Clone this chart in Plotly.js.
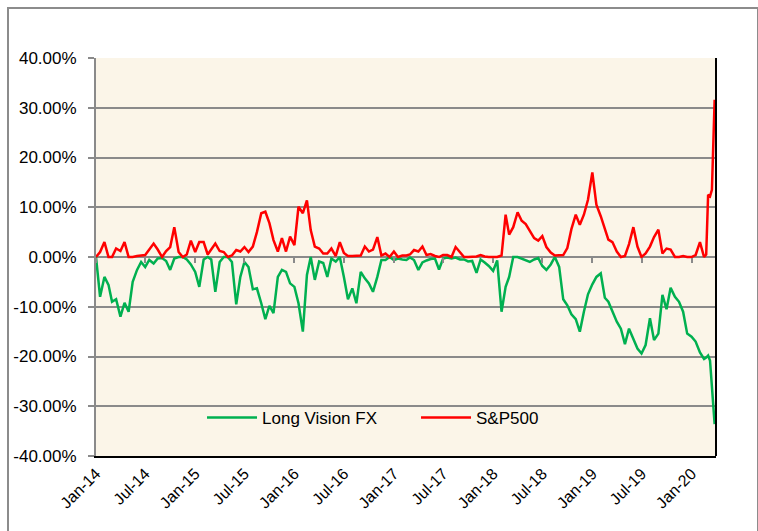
<!DOCTYPE html>
<html>
<head>
<meta charset="utf-8">
<script src="https://cdn.plot.ly/plotly-3.0.1.min.js"></script>
<style>
  html, body { margin: 0; padding: 0; background: #ffffff; }
  #chart { position: absolute; left: 0; top: 0; width: 758px; height: 531px; }
  #frame { position: absolute; left: 7px; top: 7px; width: 748px; height: 530px;
           border-left: 2px solid #8c8c8c; border-top: 2px solid #8c8c8c; border-right: 2px solid #8c8c8c;
           pointer-events: none; }
</style>
</head>
<body>
<div id="chart"></div>
<div id="frame"></div>
<script>
// Dates (half-monthly, weekly around the March 2020 sell-off)
const dates = [
"2014-01-01","2014-01-16","2014-02-01","2014-02-16","2014-03-01","2014-03-16","2014-04-01","2014-04-16","2014-05-01","2014-05-16","2014-06-01","2014-06-16",
"2014-07-01","2014-07-16","2014-08-01","2014-08-16","2014-09-01","2014-09-16","2014-10-01","2014-10-16","2014-11-01","2014-11-16","2014-12-01","2014-12-16",
"2015-01-01","2015-01-16","2015-02-01","2015-02-16","2015-03-01","2015-03-16","2015-04-01","2015-04-16","2015-05-01","2015-05-16","2015-06-01","2015-06-16",
"2015-07-01","2015-07-16","2015-08-01","2015-08-16","2015-09-01","2015-09-16","2015-10-01","2015-10-16","2015-11-01","2015-11-16","2015-12-01","2015-12-16",
"2016-01-01","2016-01-16","2016-02-01","2016-02-16","2016-03-01","2016-03-16","2016-04-01","2016-04-16","2016-05-01","2016-05-16","2016-06-01","2016-06-16",
"2016-07-01","2016-07-16","2016-08-01","2016-08-16","2016-09-01","2016-09-16","2016-10-01","2016-10-16","2016-11-01","2016-11-16","2016-12-01","2016-12-16",
"2017-01-01","2017-01-16","2017-02-01","2017-02-16","2017-03-01","2017-03-16","2017-04-01","2017-04-16","2017-05-01","2017-05-16","2017-06-01","2017-06-16",
"2017-07-01","2017-07-16","2017-08-01","2017-08-16","2017-09-01","2017-09-16","2017-10-01","2017-10-16","2017-11-01","2017-11-16","2017-12-01","2017-12-16",
"2018-01-01","2018-01-16","2018-02-01","2018-02-16","2018-03-01","2018-03-16","2018-04-01","2018-04-16","2018-05-01","2018-05-16","2018-06-01","2018-06-16",
"2018-07-01","2018-07-16","2018-08-01","2018-08-16","2018-09-01","2018-09-16","2018-10-01","2018-10-16","2018-11-01","2018-11-16","2018-12-01","2018-12-16",
"2019-01-01","2019-01-16","2019-02-01","2019-02-16","2019-03-01","2019-03-16","2019-04-01","2019-04-16","2019-05-01","2019-05-16","2019-06-01","2019-06-16",
"2019-07-01","2019-07-16","2019-08-01","2019-08-16","2019-09-01","2019-09-16","2019-10-01","2019-10-16","2019-11-01","2019-11-16","2019-12-01","2019-12-16",
"2020-01-01","2020-01-16","2020-02-01","2020-02-16","2020-02-24","2020-03-02","2020-03-09","2020-03-16","2020-03-20","2020-03-26"
];

// Drawdown of Long Vision FX (percent)
const longVisionFX = [
0,-8.0,-4.0,-5.6,-9.0,-8.5,-12.0,-9.2,-11.0,-5.0,-2.6,-1.0,
-2.0,-0.6,-1.3,-0.3,-0.2,-0.8,-2.6,-0.3,0,0,-0.5,-1.5,
-3.0,-6.0,-0.5,0,-0.5,-7.0,-1.0,0,0,-1.0,-9.5,-4.0,
-1.0,-2.0,-6.5,-6.3,-9.3,-12.5,-9.8,-11.3,-4.0,-2.6,-3.0,-5.3,
-6.0,-9.3,-15.0,-3.6,0,-4.6,-0.9,-1.2,-4.0,-0.3,-0.9,0,
-4.0,-8.5,-6.3,-9.3,-3.0,-4.3,-5.3,-7.0,-4.0,-0.6,-0.6,0,
-0.6,-0.3,-0.5,-0.6,-0.1,-0.6,-2.6,-1.1,-0.7,-0.4,-0.3,-2.5,
-0.3,-0.1,-0.3,-0.1,-0.5,-0.5,-0.9,-0.8,-3.2,-0.5,-1.1,-1.8,
-2.8,-0.7,-11.0,-6.0,-4.0,0,0,-0.3,-0.6,-1.0,-0.5,-0.2,
-1.8,-2.6,-1.5,0,-2.0,-8.5,-9.7,-11.5,-12.5,-15.0,-11.0,-7.5,
-5.5,-4.0,-3.3,-8.2,-9.0,-11.0,-13.0,-14.4,-17.5,-14.4,-16.4,-18.4,
-19.4,-17.7,-12.3,-16.7,-15.4,-7.6,-10.5,-6.2,-8.0,-9.0,-11.0,-15.4,
-16.0,-17.0,-19.2,-20.5,-20.2,-19.8,-20.8,-27.0,-30.5,-33.6
];

// Drawdown of S&P500 (percent, shown as positive)
const sp500 = [
0,1.0,3.0,0,0,1.7,1.2,3.0,0,0,0.2,0.3,
0.4,1.5,2.7,1.5,0,1.2,2.0,6.0,1.0,0,0.5,3.3,
1.0,3.0,3.0,0.5,1.5,2.7,1.2,1.0,0,0.3,1.4,1.1,
2.0,1.0,2.1,5.0,8.8,9.1,6.8,3.4,1.1,3.8,1.1,4.1,
2.4,10.1,8.8,11.4,5.4,2.1,1.7,0.7,0.7,1.7,0.2,3.0,
0.8,0.2,0.2,0.2,0.3,2.1,1.1,1.5,4.0,0.3,0.7,0,
1.1,0,0.3,0.3,0.5,1.4,1.1,2.1,0.4,0.6,0.2,0,
0.4,0.4,0,2.0,1.0,0,0,0,0.1,0.4,0.1,0,
0,0,0.3,8.5,4.5,6.0,9.0,7.3,6.6,5.1,3.8,3.3,
4.2,2.0,0.9,0.3,0.3,0.4,1.8,5.6,8.5,6.5,8.5,11.5,
17.0,10.5,8.2,5.8,3.5,3.0,1.1,0,0.2,2.6,6.0,2.1,
0,0.7,2.1,4.0,5.5,0.7,1.7,1.5,0,0,0.2,0,
0,0.4,3.0,0,0.5,12.5,12.2,13.5,23.0,31.6
];

const seriesNames = ["Long Vision FX", "S&P500"];
const xRange = ["2014-01-01", "2020-03-31"];
const yTicks = [-40, -30, -20, -10, 0, 10, 20, 30, 40];
const yTickText = ["-40.00%", "-30.00%", "-20.00%", "-10.00%", "0.00%", "10.00%", "20.00%", "30.00%", "40.00%"];

const FONT = "Liberation Sans, Arial, sans-serif";

const traces = [
  { x: dates, y: longVisionFX, name: seriesNames[0], type: "scatter", mode: "lines",
    line: { color: "#00B050", width: 2.5 }, hoverinfo: "x+y" },
  { x: dates, y: sp500, name: seriesNames[1], type: "scatter", mode: "lines",
    line: { color: "#FF0000", width: 2.5 }, hoverinfo: "x+y" },
  // carrier for the small tick marks drawn on the 0% line
  { x: xRange, y: [null, null], xaxis: "x2", yaxis: "y", type: "scatter", mode: "lines",
    showlegend: false, hoverinfo: "skip", line: { width: 0 } }
];

const layout = {
  width: 758, height: 531,
  margin: { l: 96, r: 42, t: 58, b: 75 },
  paper_bgcolor: "#ffffff",
  plot_bgcolor: "#FBF5E8",
  font: { family: FONT, color: "#000000" },
  showlegend: true,
  legend: {
    orientation: "h", x: 0.171, y: 0.0955, xanchor: "left", yanchor: "middle",
    bgcolor: "rgba(0,0,0,0)", font: { family: FONT, size: 17, color: "#000" },
    itemwidth: 50, entrywidth: 149, entrywidthmode: "pixels"
  },
  xaxis: {
    type: "date", range: xRange, tick0: "2014-01-01", dtick: "M6",
    tickformat: "%b-%y", tickangle: -45, ticks: "",
    tickfont: { family: FONT, size: 16, color: "#000" },
    showgrid: false, zeroline: false,
    showline: true, linecolor: "#000000", linewidth: 2, mirror: false
  },
  xaxis2: {
    type: "date", overlaying: "x", anchor: "free", position: 0.5, side: "bottom",
    range: xRange, tick0: "2014-01-01", dtick: "M6",
    ticks: "outside", ticklen: 5, tickwidth: 2, tickcolor: "#8a8a8a",
    showticklabels: false, showgrid: false, zeroline: false, showline: false
  },
  yaxis: {
    range: [-40, 40], tickmode: "array", tickvals: yTicks, ticktext: yTickText,
    tickfont: { family: FONT, size: 17, color: "#000" },
    ticks: "outside", ticklen: 6, tickwidth: 2, tickcolor: "#8a8a8a",
    ticklabelstandoff: 8,
    showgrid: true, gridcolor: "#8a8a8a", gridwidth: 2,
    zeroline: true, zerolinecolor: "#8a8a8a", zerolinewidth: 2,
    showline: true, linecolor: "#8a8a8a", linewidth: 2
  },
  shapes: [
    { type: "line", xref: "paper", yref: "paper", x0: 1, x1: 1, y0: 0, y1: 1,
      line: { color: "#000000", width: 2 } }
  ]
};

Plotly.newPlot("chart", traces, layout, { displayModeBar: false, staticPlot: true });
</script>
</body>
</html>
